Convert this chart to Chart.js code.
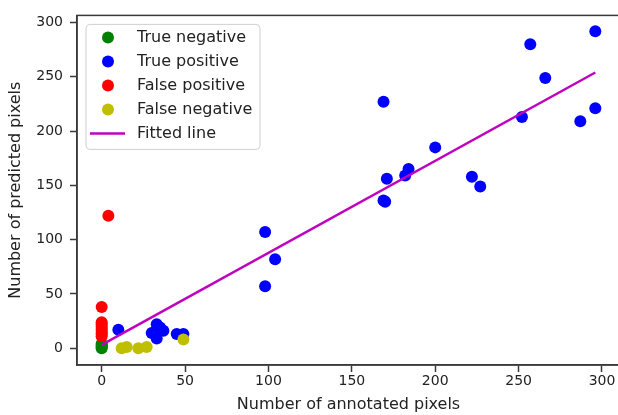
<!DOCTYPE html>
<html>
<head>
<meta charset="utf-8">
<script src="https://cdn.jsdelivr.net/npm/chart.js@4"></script>
<style>
  html, body { margin: 0; padding: 0; background: #fff; overflow: hidden; }
</style>
</head>
<body>
<canvas id="chart" width="626" height="415"></canvas>
<script>
// values
const trueNegX = [0, 0, 0, 0, 0];
const trueNegY = [0, 1, 2, 3, 4];

const truePosX = [10, 30, 33, 33, 35, 37, 45, 49, 98, 98, 104, 169, 169, 170, 171, 182, 184, 200, 222, 227, 252, 257, 266, 287, 296, 296];
const truePosY = [17, 14, 22, 9, 19, 16, 13, 13, 107, 57, 82, 227, 136, 135, 156, 159, 165, 185, 158, 149, 213, 280, 249, 209, 221, 292];

const falsePosX = [0, 0, 0, 0, 0, 0, 0, 0, 0, 4];
const falsePosY = [38, 24, 22, 20, 18, 16, 14, 13, 11, 122];

const falseNegX = [12, 15, 22, 27, 49];
const falseNegY = [0, 1, 0, 1, 8];

const fitX = [0, 296];
const fitY = [3, 254];

const xTicks = [0, 50, 100, 150, 200, 250, 300];
const yTicks = [0, 50, 100, 150, 200, 250, 300];

const xTitle = "Number of annotated pixels";
const yTitle = "Number of predicted pixels";

const toPoints = (xs, ys) => xs.map((x, i) => ({ x: x, y: ys[i] }));

const series = [
  { label: "True negative", xs: trueNegX, ys: trueNegY, color: "#008000" },
  { label: "True positive", xs: truePosX, ys: truePosY, color: "#0000ff" },
  { label: "False positive", xs: falsePosX, ys: falsePosY, color: "#ff0000" },
  { label: "False negative", xs: falseNegX, ys: falseNegY, color: "#bfbf00" },
];

const lineColor = "#bf00bf";
const spineColor = "#3a3a3a";
const textColor = "#222";

const datasets = series.map((s, i) => ({
  type: "scatter",
  label: s.label,
  data: toPoints(s.xs, s.ys),
  backgroundColor: s.color,
  borderColor: s.color,
  borderWidth: 0,
  pointRadius: 6,
  pointHoverRadius: 6,
  order: 4 - i,
}));

datasets.push({
  type: "line",
  label: "Fitted line",
  data: toPoints(fitX, fitY),
  borderColor: lineColor,
  backgroundColor: lineColor,
  borderWidth: 2.5,
  pointRadius: 0,
  fill: false,
  order: 0,
});

// top/right spines, like a matplotlib axes frame
const framePlugin = {
  id: "frame",
  afterDraw(chart) {
    const { ctx, chartArea: a } = chart;
    ctx.save();
    ctx.strokeStyle = spineColor;
    ctx.lineWidth = 1.5;
    ctx.strokeRect(a.left, a.top, a.right - a.left, a.bottom - a.top);
    ctx.restore();
  },
};

// legend box drawn inside the plot, upper left
const legendPlugin = {
  id: "innerLegend",
  afterDatasetsDraw(chart) {
    const { ctx, chartArea: a } = chart;
    const left = a.left + 9;
    const top = a.top + 9;
    const w = 174;
    const h = 125;
    ctx.save();
    ctx.beginPath();
    ctx.roundRect(left, top, w, h, 4);
    ctx.fillStyle = "rgba(255,255,255,0.8)";
    ctx.fill();
    ctx.strokeStyle = "#d0d0d0";
    ctx.lineWidth = 1;
    ctx.stroke();

    ctx.font = "16px 'DejaVu Sans'";
    ctx.textBaseline = "middle";
    ctx.fillStyle = textColor;
    const rows = series.map((s) => ({ label: s.label, color: s.color, kind: "dot" }));
    rows.push({ label: "Fitted line", color: lineColor, kind: "line" });
    rows.forEach((r, i) => {
      const y = top + 13 + i * 24;
      if (r.kind === "dot") {
        ctx.beginPath();
        ctx.arc(left + 22, y, 6, 0, Math.PI * 2);
        ctx.fillStyle = r.color;
        ctx.fill();
      } else {
        ctx.beginPath();
        ctx.moveTo(left + 4, y);
        ctx.lineTo(left + 39, y);
        ctx.strokeStyle = r.color;
        ctx.lineWidth = 2.5;
        ctx.stroke();
      }
      ctx.fillStyle = textColor;
      ctx.fillText(r.label, left + 51, y);
    });
    ctx.restore();
  },
};

const ctx = document.getElementById("chart").getContext("2d");
new Chart(ctx, {
  data: { datasets: datasets },
  options: {
    responsive: false,
    animation: false,
    layout: { padding: { top: 11, right: 3, left: 0, bottom: 0 } },
    plugins: {
      legend: { display: false },
      tooltip: { enabled: false },
    },
    scales: {
      x: {
        type: "linear",
        min: -14.8,
        max: 310.8,
        afterBuildTicks: (scale) => {
          scale.ticks = xTicks.map((v) => ({ value: v }));
        },
        afterFit: (scale) => {
          scale.height = 50;
        },
        grid: {
          drawOnChartArea: false,
          drawTicks: true,
          tickLength: 7,
          tickColor: spineColor,
          tickWidth: 1.5,
        },
        border: { display: true, color: spineColor, width: 1.5 },
        ticks: {
          autoSkip: false,
          maxRotation: 0,
          padding: 1,
          color: textColor,
          font: { family: "DejaVu Sans", size: 14 },
        },
        title: {
          display: true,
          text: xTitle,
          color: textColor,
          font: { family: "DejaVu Sans", size: 16 },
          padding: { top: 0, bottom: 1 },
        },
      },
      y: {
        type: "linear",
        min: -15.5,
        max: 306.6,
        afterBuildTicks: (scale) => {
          scale.ticks = yTicks.map((v) => ({ value: v }));
        },
        afterFit: (scale) => {
          scale.width = 77;
        },
        grid: {
          drawOnChartArea: false,
          drawTicks: true,
          tickLength: 7,
          tickColor: spineColor,
          tickWidth: 1.5,
        },
        border: { display: true, color: spineColor, width: 1.5 },
        ticks: {
          autoSkip: false,
          padding: 7,
          color: textColor,
          font: { family: "DejaVu Sans", size: 14 },
        },
        title: {
          display: true,
          text: yTitle,
          color: textColor,
          font: { family: "DejaVu Sans", size: 16 },
          padding: { top: 6, bottom: 0 },
        },
      },
    },
  },
  plugins: [framePlugin, legendPlugin],
});
</script>
</body>
</html>
